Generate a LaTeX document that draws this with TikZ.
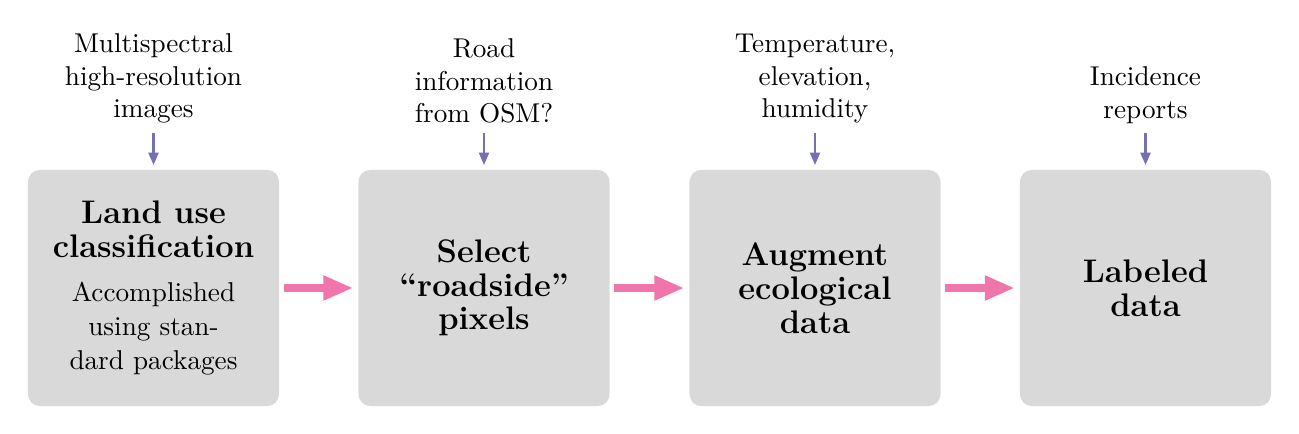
\documentclass[tikz,border=0pt]{standalone}
\usetikzlibrary{arrows.meta}
\definecolor{boxgray}{RGB}{217,217,217}
\definecolor{pinkarrow}{RGB}{240,117,170}
\definecolor{purparrow}{RGB}{117,112,179}
\newcommand{\tfont}{\fontsize{12}{12.4}\selectfont\bfseries}
\newcommand{\bfont}{\fontsize{10}{12}\selectfont\mdseries}
\begin{document}
\begin{tikzpicture}[x=0.3676pt,y=-0.3676pt,
  box/.style={fill=boxgray, rounded corners=4.4pt, minimum width=92.3pt,
    minimum height=86.8pt, align=center, inner sep=0pt, font=\tfont},
  lab/.style={align=center, anchor=south, inner sep=0pt, font=\bfont},
  feed/.style={draw=purparrow, line width=0.8pt,
    -{Triangle[length=4.6pt,width=3.7pt]}, shorten <=3.4pt, shorten >=1.6pt},
  flow/.style={draw=pinkarrow, line width=2.8pt,
    -{Triangle[length=11pt,width=8.5pt]}, shorten <=1.6pt, shorten >=1.7pt}
]
\useasboundingbox (0,0) rectangle (1299,434);

\node[box] (b1) at (153.5,288) {\tfont Land use\\\tfont classification\\[4pt]\bfont Accomplished\\\bfont using stan-\\\bfont dard packages};
\node[box] (b2) at (484,288) {Select\\``roadside''\\pixels};
\node[box] (b3) at (815,288) {Augment\\ecological\\data};
\node[box] (b4) at (1145.5,288) {Labeled\\data};

\node[lab] (l1) at (153.5,124) {Multispectral\\high-resolution\\images};
\node[lab] (l2) at (484,124) {Road\\information\\from OSM?};
\node[lab] (l3) at (815,124) {Temperature,\\elevation,\\humidity};
\node[lab] (l4) at (1145.5,124) {Incidence\\reports};

\foreach \i in {1,2,3,4} \draw[feed] (l\i.south) -- (b\i.north);
\draw[flow] (b1.east) -- (b2.west);
\draw[flow] (b2.east) -- (b3.west);
\draw[flow] (b3.east) -- (b4.west);
\end{tikzpicture}
\end{document}
